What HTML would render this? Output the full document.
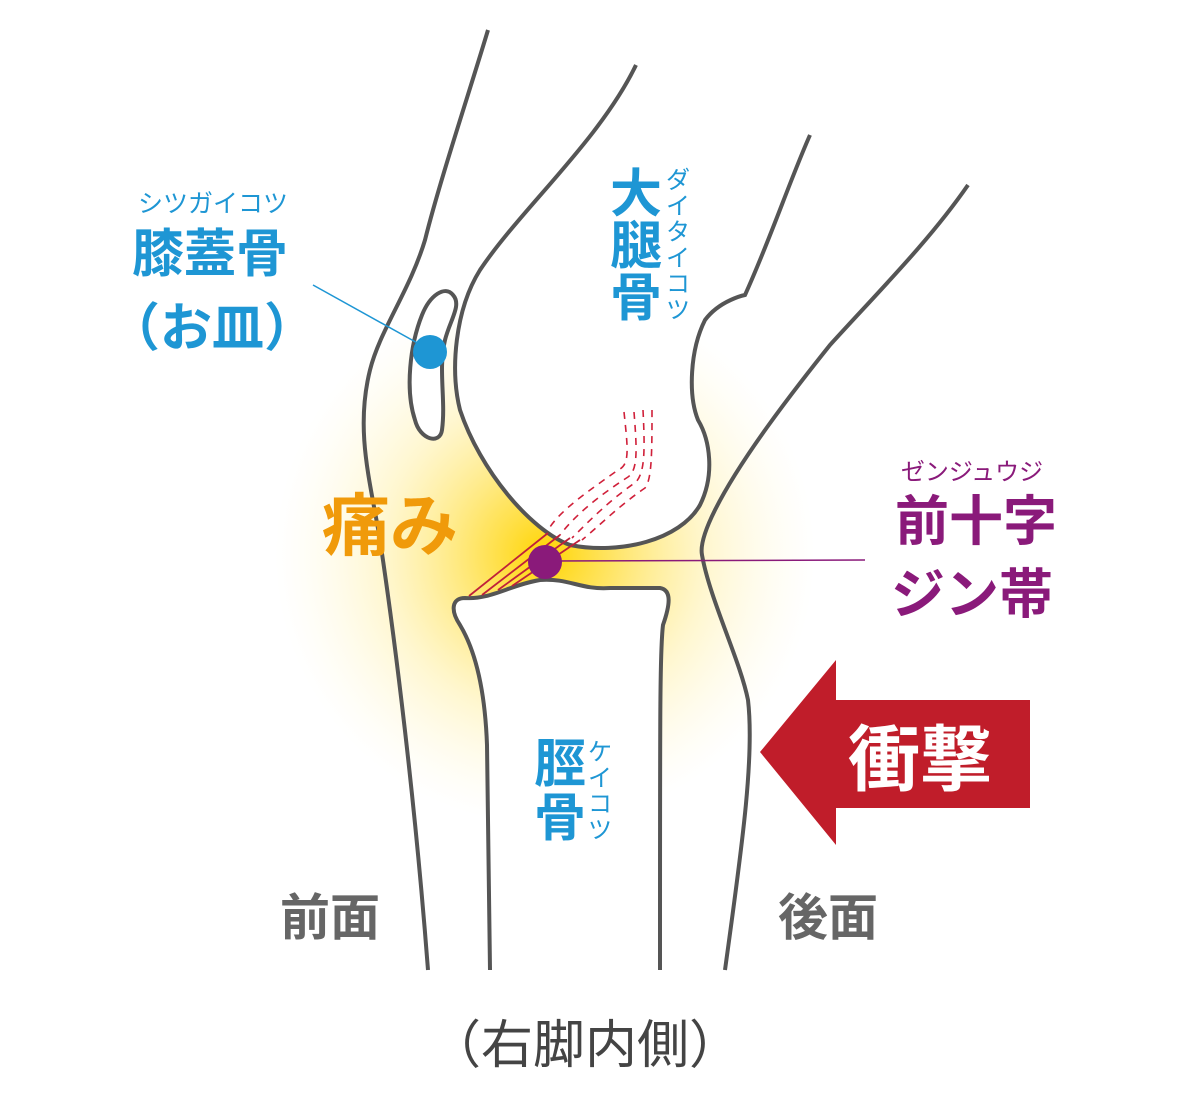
<!DOCTYPE html>
<html><head><meta charset="utf-8"><style>
html,body{margin:0;padding:0;background:#fff;}
svg{display:block;}
text{font-family:"Liberation Sans","Noto Sans CJK JP",sans-serif;}
</style></head><body>
<svg width="1188" height="1100" viewBox="0 0 1188 1100" xmlns="http://www.w3.org/2000/svg">
<defs>
<radialGradient id="g" cx="545" cy="555" r="270" gradientUnits="userSpaceOnUse">
<stop offset="0" stop-color="#ffd400" stop-opacity="1"/>
<stop offset="0.25" stop-color="#ffe04a" stop-opacity="0.85"/>
<stop offset="0.6" stop-color="#fff0a8" stop-opacity="0.55"/>
<stop offset="1" stop-color="#fff8d8" stop-opacity="0"/>
</radialGradient>
</defs>
<rect width="1188" height="1100" fill="#fff"/>
<circle cx="545" cy="555" r="270" fill="url(#g)"/>
<path d="M636,65 C600,140 520,210 480,270 C455,310 450,370 460,410 C480,470 530,530 570,545 C620,555 680,540 700,505 C715,475 710,440 698,420 C688,395 690,350 705,320 C720,300 745,295 745,295 C770,240 790,180 810,135" fill="#fff" stroke="#555" stroke-width="4"/>
<path d="M490,970 L487,745 C485,690 475,650 460,625 C450,610 452,598 465,598 C490,600 510,585 540,580 C570,578 580,590 610,588 L660,588 C672,590 670,605 663,625 C660,650 660,700 660,970" fill="#fff" stroke="#555" stroke-width="4"/>
<rect x="492" y="960" width="166" height="20" fill="#fff"/>
<path d="M488,30 C470,90 440,180 425,240 C410,290 380,330 370,370 C355,430 370,480 380,540 C395,640 415,800 428,970" fill="none" stroke="#555" stroke-width="4"/>
<path d="M968,185 C930,240 880,290 830,345 C790,395 740,460 715,510 C705,530 700,545 702,555 C710,600 740,660 748,700 C755,760 740,860 725,970" fill="none" stroke="#555" stroke-width="4"/>
<path d="M453,295 C445,285 430,295 422,315 C410,345 405,390 415,420 C420,440 440,445 442,430 C446,400 438,370 445,340 C450,320 462,305 453,295 Z" fill="#fff" stroke="#555" stroke-width="4"/>
<g stroke="#d0203a" stroke-width="1.6" fill="none" stroke-dasharray="7,6">
<path d="M624,412 C628,450 630,465 618,470 C590,490 560,510 548,530"/>
<path d="M634,412 C637,450 638,470 628,477 C600,495 575,515 560,535"/>
<path d="M643,410 C645,450 645,472 636,482 C610,500 590,520 572,538"/>
<path d="M652,410 C652,450 652,480 645,488 C620,505 600,525 582,540"/>
</g>
<g stroke="#c0203a" stroke-width="1.8" fill="none">
<path d="M469,596 L548,533"/><path d="M482,595 L560,535"/><path d="M498,590 L570,538"/><path d="M512,586 L580,540"/>
</g>
<line x1="313" y1="285" x2="430" y2="350" stroke="#1e96d4" stroke-width="1.5"/>
<circle cx="430" cy="352" r="17" fill="#1e96d4"/>
<line x1="545" y1="561" x2="865" y2="560" stroke="#8a1a7a" stroke-width="1.5"/>
<circle cx="545" cy="562" r="17" fill="#8a1a7a"/>
<path d="M760,752 L836,660 L836,700 L1030,700 L1030,808 L836,808 L836,845 Z" fill="#c01d2a"/>
<text x="920" y="785" font-size="72" font-weight="bold" fill="#fff" text-anchor="middle">衝撃</text>
<text x="213" y="212" font-size="25" fill="#1e96d4" text-anchor="middle">シツガイコツ</text>
<text x="210" y="272" font-size="52" font-weight="bold" fill="#1e96d4" text-anchor="middle">膝蓋骨</text>
<text x="212" y="346" font-size="52" font-weight="bold" fill="#1e96d4" text-anchor="middle">（お皿）</text>
<g font-size="52" font-weight="bold" fill="#1e96d4" text-anchor="middle">
<text x="636" y="212">大</text><text x="636" y="264">腿</text><text x="636" y="316">骨</text>
<text x="560" y="782">脛</text><text x="560" y="836">骨</text>
</g>
<g font-size="24" fill="#1e96d4" text-anchor="middle">
<text x="678" y="188">ダ</text><text x="678" y="214">イ</text><text x="678" y="240">タ</text><text x="678" y="266">イ</text><text x="678" y="292">コ</text><text x="678" y="318">ツ</text>
<text x="600" y="760">ケ</text><text x="600" y="786">イ</text><text x="600" y="812">コ</text><text x="600" y="838">ツ</text>
</g>
<text x="390" y="550" font-size="68" font-weight="bold" fill="#f09a0a" text-anchor="middle">痛み</text>
<text x="972" y="480" font-size="24" fill="#8a1a7a" text-anchor="middle">ゼンジュウジ</text>
<text x="976" y="540" font-size="54" font-weight="bold" fill="#8a1a7a" text-anchor="middle">前十字</text>
<text x="972" y="613" font-size="54" font-weight="bold" fill="#8a1a7a" text-anchor="middle">ジン帯</text>
<text x="330" y="935" font-size="50" font-weight="bold" fill="#666" text-anchor="middle">前面</text>
<text x="828" y="935" font-size="50" font-weight="bold" fill="#666" text-anchor="middle">後面</text>
<text x="585" y="1063" font-size="52" fill="#444" text-anchor="middle">（右脚内側）</text>
</svg>
</body></html>
